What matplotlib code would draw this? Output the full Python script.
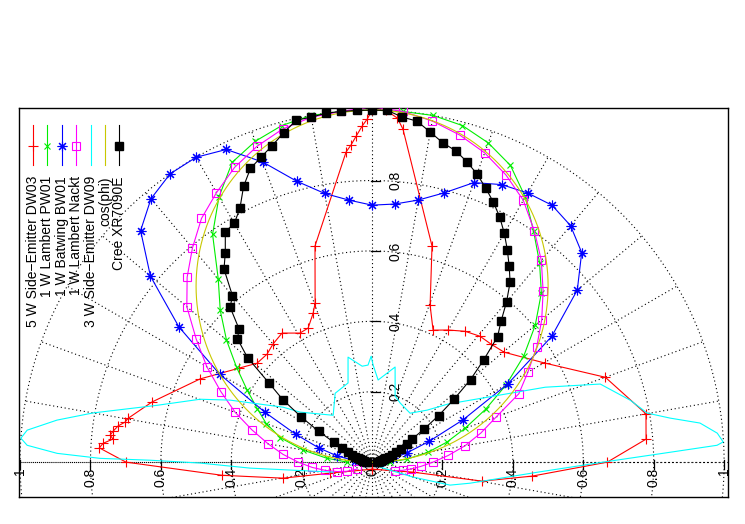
#!/usr/bin/env python3

import numpy as np
import matplotlib
matplotlib.use("Agg")
import matplotlib.pyplot as plt

OUT_FILE = "out.png"
W_PX, H_PX = 745, 524
plt.rcParams["font.family"] = ["Liberation Sans", "DejaVu Sans"]

# angle from the LED axis in degrees, relative intensity (1 = max)
DW03_ANGLE = [-180, -104.7, -100.2, -95, -90, -87, -86, -84.9, -84.1, -83.2, -81.9,
              -80.8, -79.8, -74.7, -64.2, -54.8, -49.3, -44.2, -40, -34.9, -29.2,
              -25.5, -21.6, -19.7, -14.8, -4.8, -3.8, -2.8, -1.7, -0.8, 0, 2.3,
              4.2, 5.3, 15.5, 20.3, 24.8, 29.9, 35.4, 40.6, 45.2, 50.2, 60.2, 70,
              80, 85.2, 90, 95, 99.8, 103.7, 180]
DW03_REL = [0.02, 0.123, 0.257, 0.428, 0.699, 0.776, 0.766, 0.739, 0.748, 0.741, 0.729,
            0.711, 0.704, 0.648, 0.543, 0.463, 0.431, 0.428, 0.438, 0.447, 0.42,
            0.422, 0.455, 0.48, 0.635, 0.884, 0.903, 0.927, 0.955, 0.975, 1.0, 1.0,
            0.98, 0.95, 0.637, 0.475, 0.413, 0.433, 0.456, 0.471, 0.476, 0.488, 0.566, 0.705,
            0.79, 0.781, 0.668, 0.456, 0.317, 0.12, 0.02]

PW01_ANGLE = list(range(-90, 91, 5))
PW01_REL = [0.07, 0.13, 0.20, 0.27, 0.32, 0.36, 0.41, 0.47, 0.54, 0.61, 0.68, 0.79,
            0.87, 0.94, 0.97, 0.99, 1.0, 1.0, 1.0, 1.0, 1.0, 0.99, 0.965, 0.93,
            0.87, 0.80, 0.74, 0.68, 0.605, 0.526, 0.44, 0.356, 0.281, 0.22, 0.161,
            0.10, 0.05]

BW01_ANGLE = list(range(-90, 91, 5))
BW01_REL = [0.02, 0.05, 0.10, 0.157, 0.23, 0.337, 0.5, 0.67, 0.822, 0.93, 0.977,
            1.0, 1.0, 0.98, 0.907, 0.826, 0.775, 0.747, 0.73, 0.736, 0.756, 0.792,
            0.845, 0.87, 0.883, 0.891, 0.877, 0.842, 0.761, 0.623, 0.446, 0.286,
            0.172, 0.103, 0.06, 0.03, 0.01]

NACKT_ANGLE = list(range(-115, 111, 5))
NACKT_REL = [0.046, 0.076, 0.103, 0.135, 0.171, 0.21, 0.254, 0.30, 0.353, 0.414,
             0.474, 0.542, 0.61, 0.687, 0.743, 0.794, 0.845, 0.884, 0.924, 0.955,
             0.98, 0.995, 1.0, 1.01, 1.0, 0.984, 0.962, 0.935, 0.9, 0.859, 0.803,
             0.748, 0.687, 0.629, 0.571, 0.511, 0.46, 0.375, 0.32, 0.268, 0.217,
             0.173, 0.139, 0.112, 0.09, 0.07]

DW09_ANGLE = [-104.4, -92.8, -90.3, -89.5, -89.2, -88.4, -87.2, -86.1, -84.7, -82.4,
              -80, -75.2, -69.9, -66.4, -58.3, -55.2, -39.7, -28.2, -16.9, -12.9,
              -5.9, -2.4, -0.5, 0.6, 4.2, 13.6, 19.2, 25.4, 37.8, 46.6, 52.6, 66.6,
              71.1, 76.5, 79.9, 81.6, 83.2, 85.2, 86.7, 87.2, 88.1, 90, 93.5, 102.1,
              106.4, 110, 122]
DW09_REL = [0.114, 0.347, 0.489, 0.631, 0.773, 0.895, 0.981, 1.0, 0.984, 0.903,
            0.805, 0.632, 0.52, 0.44, 0.297, 0.249, 0.173, 0.222, 0.235, 0.306,
            0.274, 0.276, 0.301, 0.276, 0.234, 0.278, 0.199, 0.186, 0.176, 0.215, 0.272, 0.536,
            0.685, 0.754, 0.794, 0.856, 0.938, 0.984, 0.999, 0.981, 0.847, 0.656, 0.47, 0.285,
            0.231, 0.124, 0.027]

COS_ANGLE = np.arange(-90, 91, 1)
COS_REL = np.cos(np.radians(COS_ANGLE))

CREE_ANGLE = list(np.arange(-90, 90.1, 2.5))
CREE_REL = [0.015, 0.018, 0.022, 0.026, 0.03, 0.035, 0.042, 0.05, 0.06, 0.075, 0.095,
            0.123, 0.175, 0.238, 0.31, 0.369, 0.462, 0.519, 0.534, 0.597, 0.617,
            0.691, 0.727, 0.776, 0.783, 0.813, 0.864, 0.903, 0.922, 0.943, 0.969,
            0.995, 0.995, 1.0, 1.0, 1.0,
            1.0, 1.0, 0.984, 0.977, 0.952, 0.929, 0.916, 0.895, 0.871, 0.843, 0.815,
            0.785, 0.751, 0.715, 0.679, 0.644, 0.594, 0.542, 0.504, 0.43, 0.365,
            0.293, 0.231, 0.175, 0.132, 0.112, 0.09, 0.072, 0.06, 0.05, 0.042,
            0.035, 0.03, 0.026, 0.022, 0.018, 0.015]

LABELS = ["5 W Side\u2212Emitter DW03", "1 W Lambert PW01", "1 W Batwing BW01",
          "1 W Lambert Nackt", "3 W Side\u2212Emitter DW09", "cos(phi)", "Cree XR7090E"]

X_TICKS = [-1, -0.8, -0.6, -0.4, -0.2, 0, 0.2, 0.4, 0.6, 0.8, 1]
X_TICK_LABELS = ["1", "0.8", "0.6", "0.4", "0.2", "0", "0.2", "0.4", "0.6", "0.8", "1"]
Y_TICKS = [0.2, 0.4, 0.6, 0.8]
Y_TICK_LABELS = ["0.2", "0.4", "0.6", "0.8"]
GRID_R = [0.2, 0.4, 0.6, 0.8, 1.0]
GRID_STEP_DEG = 10


def to_xy(angle_deg, rel):
    a = np.radians(np.asarray(angle_deg, dtype=float))
    r = np.asarray(rel, dtype=float)
    return r * np.sin(a), r * np.cos(a)


def draw_grid(ax):
    grid = dict(color="black", lw=0.8, ls=(0, (1, 2.5)), zorder=1)
    t = np.linspace(0, 2 * np.pi, 721)
    for r in GRID_R:
        ax.plot(r * np.sin(t), r * np.cos(t), **grid)
    for a in np.radians(np.arange(0, 360, GRID_STEP_DEG)):
        ax.plot([0, np.sin(a)], [0, np.cos(a)], **grid)
    ax.axhline(0, **grid)

    # tics sit on the axes themselves
    for x, lab in zip(X_TICKS, X_TICK_LABELS):
        ax.plot([x, x], [0.006, -0.02], color="black", lw=0.9, zorder=2)
        ax.text(x, -0.016, lab, rotation=90, ha="center", va="top", fontsize=10)
    for y, lab in zip(Y_TICKS, Y_TICK_LABELS):
        ax.plot([-0.004, 0.022], [y, y], color="black", lw=0.9, zorder=2)
        ax.text(0.066, y, lab, rotation=90, ha="center", va="center", fontsize=10)


def main():
    fig = plt.figure(figsize=(W_PX / 100, H_PX / 100), dpi=100)
    ax = fig.add_axes([19 / W_PX, 27 / H_PX, 709 / W_PX, 389 / H_PX])
    ax.set_xlim(-1.003, 1.011)
    ax.set_ylim(-0.099, 1.006)
    ax.set_xticks([])
    ax.set_yticks([])
    for s in ax.spines.values():
        s.set_linewidth(1.0)

    draw_grid(ax)

    series = [
        (DW03_ANGLE, DW03_REL, dict(color="#ff0000", marker="+", ms=7, mew=0.8)),
        (PW01_ANGLE, PW01_REL, dict(color="#00ee00", marker="x", ms=5, mew=0.8)),
        (BW01_ANGLE, BW01_REL, dict(color="#0000ff", marker=(8, 2, 0), ms=7, mew=0.8)),
        (NACKT_ANGLE, NACKT_REL, dict(color="#ff00ff", marker="s", ms=5.5, mew=0.8,
                                      mfc="none")),
        (DW09_ANGLE, DW09_REL, dict(color="#00ffff")),
        (COS_ANGLE, COS_REL, dict(color="#c8c800")),
        (CREE_ANGLE, CREE_REL, dict(color="#000000", marker="s", ms=5.5)),
    ]

    for i, (ang, rel, style) in enumerate(series):
        x, y = to_xy(ang, rel)
        ax.plot(x, y, lw=0.8, zorder=3 + i, **style)

    # rotated key in the top left corner, one column per curve
    for i, (label, (_, _, style)) in enumerate(zip(LABELS, series)):
        px = 33 + 14.4 * i
        fx = px / W_PX
        fig.add_artist(plt.Line2D([fx, fx], [1 - 125 / H_PX, 1 - 165 / H_PX],
                                  color=style["color"], lw=0.8,
                                  transform=fig.transFigure))
        if "marker" in style:
            mk = {k: v for k, v in style.items() if k != "color"}
            fig.add_artist(plt.Line2D([fx], [1 - 146 / H_PX], color=style["color"],
                                      ls="none", transform=fig.transFigure, **mk))
        fig.text(fx, 1 - 176 / H_PX, label, rotation=90, ha="center", va="top",
                 fontsize=10)

    fig.savefig(OUT_FILE, dpi=100)
    plt.close(fig)


if __name__ == "__main__":
    main()
